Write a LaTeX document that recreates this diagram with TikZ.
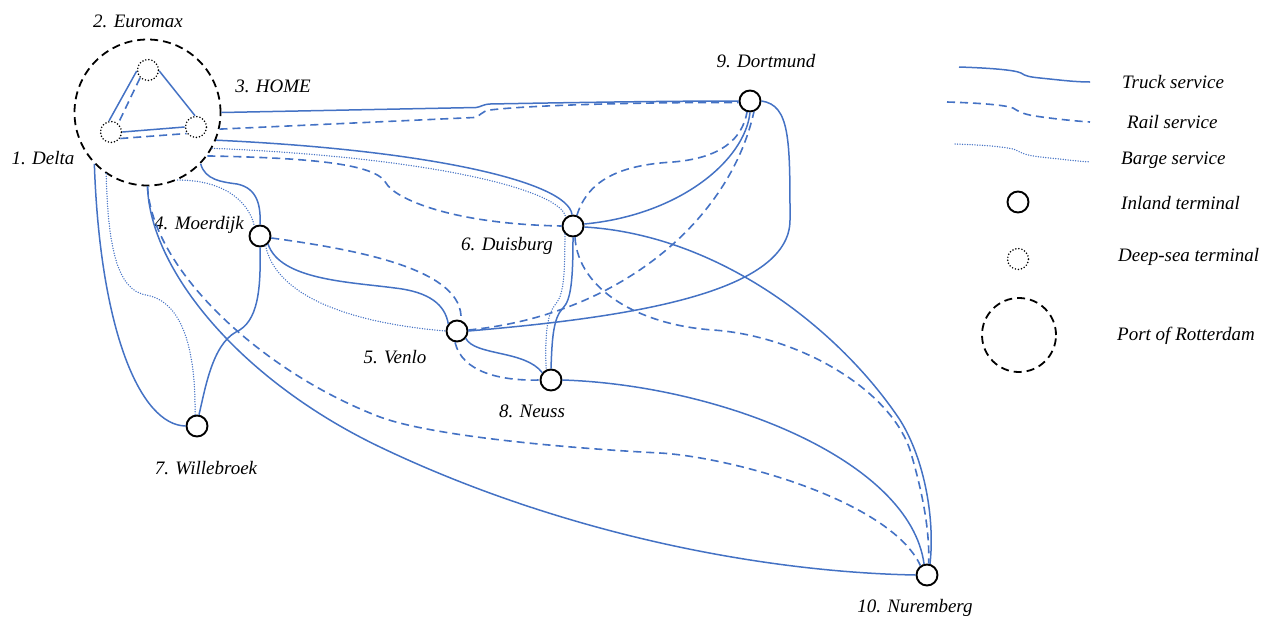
\documentclass[tikz,border=0pt]{standalone}
\usepackage{fontspec}
\setmainfont{Liberation Serif}
\definecolor{svc}{RGB}{68,114,196}
\begin{document}
\begin{tikzpicture}[x=1pt,y=-1pt,
 inland/.style={circle,draw=black,line width=1.9pt,fill=white,minimum size=21pt,inner sep=0pt},
 deepsea/.style={circle,draw=black,line width=1.7pt,dash pattern=on 0pt off 3.1pt,line cap=round,fill=white,minimum size=21pt,inner sep=0pt},
 portc/.style={circle,draw=black,line width=1.8pt,dash pattern=on 8pt off 5pt,minimum size=146pt,inner sep=0pt},
 truck/.style={draw=svc,line width=1.5pt},
 rail/.style={draw=svc,line width=1.6pt,dash pattern=on 8pt off 5pt},
 barge/.style={draw=svc,line width=1.5pt,dash pattern=on 0pt off 2.5pt,line cap=round},
 lbl/.style={font=\itshape\fontsize{19}{22}\selectfont,inner sep=0pt}]
\useasboundingbox (0,0) rectangle (1271,622);

% terminals
\node[portc] (port) at (147.5,112.5) {};
\node[deepsea] (euromax) at (148,70) {};
\node[deepsea] (delta) at (111,132) {};
\node[deepsea] (home) at (196,127) {};
\node[inland] (dort) at (750,101) {};
\node[inland] (moer) at (260,236) {};
\node[inland] (duis) at (573,226) {};
\node[inland] (venlo) at (457,331) {};
\node[inland] (neuss) at (551,380) {};
\node[inland] (wil) at (197,426) {};
\node[inland] (nur) at (927,575) {};

% labels
\node[lbl] (l2) at (138,21) {2. Euromax};
\node[lbl] (l3) at (273,86) {3. HOME};
\node[lbl] (l1) at (43,158) {1. Delta};
\node[lbl] (l4) at (199,225) {4. Moerdijk};
\node[lbl] (l6) at (507,246) {6. Duisburg};
\node[lbl] (l5) at (395,357) {5. Venlo};
\node[lbl] (l8) at (532,411) {8. Neuss};
\node[lbl] (l7) at (206,468) {7. Willebroek};
\node[lbl] (l9) at (766,61) {9. Dortmund};
\node[lbl] (l10) at (915,608) {10. Nuremberg};

% inside the port
\path[truck] (euromax.185) -- (delta.100);
\path[rail] (euromax.225) -- (delta.50);
\path[truck] (euromax.-5) -- (home.95);
\path[truck] (delta.0) -- (home.180);
\path[rail] (delta.-35) -- (home.-145);

% port -> Dortmund
\path[truck] (port.0) -- (476,107.5) .. controls (481,107) and (482,104.5) .. (490,104) .. controls (600,102) and (680,101) .. (dort.180);
\path[rail] (port.-13) -- (474,117.5) .. controls (480,117) and (481,111) .. (490,110) .. controls (530,105) and (650,102) .. (dort.188);

% port -> Duisburg
\path[truck] (port.-22) .. controls (430,150) and (568,182) .. (duis.95);
\path[barge] (port.-29) .. controls (430,157) and (562,190) .. (duis.130);
\path[rail] (port.-36) .. controls (320,158) and (376,165) .. (386,183) .. controls (394,198) and (450,224) .. (duis.180);

% port -> Moerdijk
\path[truck] (port.-44) .. controls (205,180) and (222,182) .. (237,184) .. controls (257,188) and (261,205) .. (moer.90);
\path[barge] (port.-66) .. controls (228,180) and (250,205) .. (moer.120);

% port -> Willebroek
\path[truck] (port.-136) .. controls (100,330) and (140,425) .. (wil.180);
\path[barge] (port.-124) .. controls (108,250) and (118,290) .. (146,295) .. controls (176,300) and (196,335) .. (wil.100);

% port -> Nuremberg
\path[truck] (port.-90) .. controls (150,270) and (240,380) .. (380,447) .. controls (560,533) and (760,572) .. (nur.180);
\path[rail] (port.-90) .. controls (152,270) and (262,372) .. (380,417) .. controls (440,439) and (600,450) .. (660,453) .. controls (730,457) and (890,500) .. (nur.125);

% Moerdijk
\path[truck] (moer.-90) .. controls (261,290) and (258,322) .. (236,332) .. controls (212,345) and (205,390) .. (wil.80);
\path[rail] (moer.-10) .. controls (360,250) and (465,270) .. (venlo.70);
\path[truck] (moer.-45) .. controls (280,280) and (350,282) .. (395,288) .. controls (430,292) and (445,305) .. (venlo.140);
\path[barge] (moer.-60) .. controls (275,292) and (340,322) .. (venlo.180);

% Venlo
\path[truck] (venlo.0) .. controls (620,318) and (790,295) .. (790,220) .. controls (790,140) and (790,105) .. (dort.0);
\path[rail] (venlo.5) .. controls (620,315) and (730,220) .. (dort.-70);
\path[truck] (venlo.-40) .. controls (475,356) and (525,350) .. (neuss.140);
\path[rail] (venlo.-100) .. controls (462,372) and (500,381) .. (neuss.180);

% Duisburg
\path[truck] (duis.10) .. controls (680,215) and (745,160) .. (dort.-90);
\path[rail] (duis.70) .. controls (588,180) and (620,165) .. (673,162) .. controls (720,158) and (742,140) .. (dort.-105);
\path[truck] (duis.-5) .. controls (720,235) and (840,330) .. (900,420) .. controls (925,460) and (935,520) .. (nur.75);
\path[rail] (duis.-80) .. controls (578,290) and (640,325) .. (713,330) .. controls (800,336) and (890,390) .. (910,450) .. controls (922,490) and (930,530) .. (nur.82);
\path[truck] (duis.-90) .. controls (573,280) and (571,300) .. (563,308) .. controls (553,318) and (552,340) .. (neuss.90);
\path[barge] (duis.-135) .. controls (565,280) and (563,296) .. (555,305) .. controls (546,316) and (545,340) .. (neuss.115);

% Neuss
\path[truck] (neuss.0) .. controls (720,385) and (910,460) .. (nur.105);

% legend
\coordinate (t0) at (959,67); \coordinate (t1) at (1090,82);
\coordinate (r0) at (947,102); \coordinate (r1) at (1090,122);
\coordinate (b0) at (955,144); \coordinate (b1) at (1090,162);
\path[truck] (t0) .. controls (990,68) and (1015,70) .. (1021,73) .. controls (1025,76) and (1030,77) .. (1040,78) .. controls (1060,80) and (1075,82) .. (t1);
\path[rail] (r0) .. controls (980,103) and (1005,105) .. (1013,108) .. controls (1018,111) and (1022,114) .. (1035,116) .. controls (1055,119) and (1075,121) .. (r1);
\path[barge] (b0) .. controls (985,145) and (1008,147) .. (1016,150) .. controls (1021,153) and (1025,155) .. (1040,157) .. controls (1060,159) and (1075,161) .. (b1);
\node[inland] (legin) at (1018,202) {};
\node[deepsea] (legds) at (1018,259) {};
\node[portc,minimum size=74pt] (legport) at (1019,335) {};
\node[lbl,anchor=west] (lt) at (1122,82) {Truck service};
\node[lbl,anchor=west] (lr) at (1127,122) {Rail service};
\node[lbl,anchor=west] (lb) at (1121,160) {Barge service};
\node[lbl,anchor=west] (li) at (1121,203) {Inland terminal};
\node[lbl,anchor=west] (ld) at (1118,257) {Deep-sea terminal};
\node[lbl,anchor=west] (lp) at (1117,336) {Port of Rotterdam};
\end{tikzpicture}
\end{document}
